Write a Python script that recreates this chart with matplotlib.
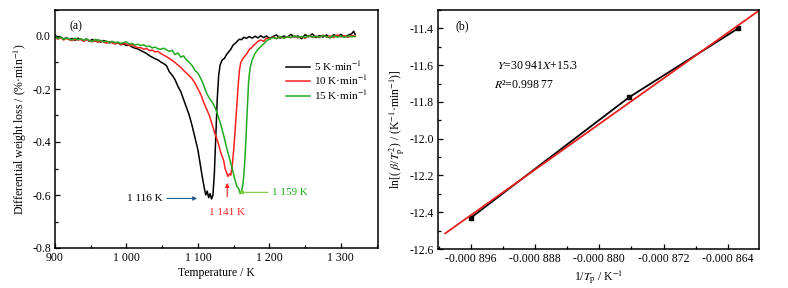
import matplotlib
matplotlib.use("Agg")
import matplotlib.pyplot as plt
from matplotlib.ticker import MultipleLocator, FuncFormatter

plt.rcParams['font.family'] = ['Liberation Serif', 'DejaVu Serif']
plt.rcParams['mathtext.fontset'] = 'stix'
plt.rcParams['font.size'] = 8

# ---------------- data: panel (a) ----------------
T_5 = [900, 904, 908, 912, 916, 920, 924, 928, 932, 936,
       940, 944, 948, 952, 956, 960, 964, 968, 972, 976,
       980, 984, 988, 992, 996, 1000, 1004, 1008, 1012, 1016,
       1020, 1024, 1028, 1032, 1036, 1040, 1044, 1048, 1052, 1056,
       1060, 1064, 1068, 1072, 1076, 1080, 1084, 1088, 1092, 1096,
       1100, 1103, 1106, 1109, 1111, 1113, 1115, 1117, 1119, 1121,
       1123, 1125, 1127, 1129, 1131, 1134, 1137, 1140, 1143, 1146,
       1149, 1152, 1155, 1158, 1161, 1164, 1168, 1172, 1176, 1180,
       1184, 1188, 1192, 1196, 1200, 1205, 1210, 1215, 1220, 1225,
       1230, 1235, 1240, 1245, 1250, 1255, 1260, 1265, 1270, 1275,
       1280, 1285, 1290, 1295, 1300, 1305, 1310, 1315, 1318, 1320]
dtg_5 = [0.004, -0.008, -0.004, -0.012, -0.006, -0.014, -0.009, -0.016, -0.008, -0.013,
         -0.018, -0.011, -0.020, -0.013, -0.019, -0.015, -0.023, -0.017, -0.021, -0.026,
         -0.022, -0.029, -0.025, -0.033, -0.030, -0.036, -0.034, -0.042, -0.046, -0.049,
         -0.055, -0.060, -0.066, -0.074, -0.080, -0.086, -0.090, -0.098, -0.104, -0.112,
         -0.135, -0.148, -0.165, -0.190, -0.210, -0.240, -0.270, -0.300, -0.340, -0.385,
         -0.430, -0.480, -0.530, -0.575, -0.600, -0.585, -0.610, -0.595, -0.615, -0.600,
         -0.520, -0.380, -0.240, -0.150, -0.110, -0.090, -0.085, -0.070, -0.060, -0.050,
         -0.035, -0.028, -0.020, -0.012, -0.014, -0.005, -0.009, -0.002, -0.008, -0.001,
         -0.007, 0.001, -0.006, 0.000, -0.009, -0.002, 0.004, -0.008, 0.000, -0.005,
         0.006, -0.004, 0.000, -0.010, 0.005, -0.003, 0.008, -0.006, 0.002, -0.004,
         0.004, -0.007, 0.005, -0.002, 0.006, -0.004, 0.003, 0.008, 0.018, 0.005]

T_10 = [900, 904, 908, 912, 916, 920, 924, 928, 932, 936,
        940, 944, 948, 952, 956, 960, 964, 968, 972, 976,
        980, 984, 988, 992, 996, 1000, 1004, 1008, 1012, 1016,
        1020, 1024, 1028, 1032, 1036, 1040, 1044, 1048, 1052, 1056,
        1060, 1064, 1068, 1072, 1076, 1080, 1084, 1088, 1092, 1096,
        1100, 1104, 1108, 1112, 1116, 1120, 1124, 1128, 1132, 1136,
        1138, 1140, 1142, 1144, 1146, 1148, 1150, 1152, 1154, 1156,
        1158, 1160, 1163, 1166, 1169, 1172, 1175, 1178, 1181, 1184,
        1188, 1192, 1196, 1200, 1205, 1210, 1215, 1220, 1225, 1230,
        1235, 1240, 1245, 1250, 1255, 1260, 1265, 1270, 1275, 1280,
        1285, 1290, 1295, 1300, 1305, 1310, 1315, 1320]
dtg_10 = [-0.005, -0.012, -0.006, -0.015, -0.009, -0.013, -0.018, -0.010, -0.016, -0.012,
          -0.020, -0.014, -0.018, -0.022, -0.016, -0.024, -0.019, -0.023, -0.027, -0.021,
          -0.026, -0.030, -0.024, -0.032, -0.028, -0.030, -0.036, -0.033, -0.040, -0.044,
          -0.044, -0.050, -0.047, -0.055, -0.053, -0.060, -0.058, -0.066, -0.072, -0.078,
          -0.085, -0.092, -0.100, -0.110, -0.118, -0.130, -0.140, -0.150, -0.162, -0.178,
          -0.200, -0.220, -0.250, -0.275, -0.300, -0.335, -0.370, -0.400, -0.440, -0.470,
          -0.500, -0.515, -0.530, -0.520, -0.525, -0.490, -0.430, -0.360, -0.280, -0.200,
          -0.130, -0.100, -0.085, -0.075, -0.065, -0.050, -0.045, -0.035, -0.028, -0.020,
          -0.015, -0.020, -0.008, -0.012, -0.004, -0.010, -0.002, -0.008, -0.003, -0.006,
          0.000, -0.007, -0.002, -0.009, 0.002, -0.005, -0.001, -0.006, 0.003, -0.004,
          0.000, -0.006, 0.004, -0.003, 0.001, -0.005, 0.002, -0.001]

T_15 = [900, 904, 908, 912, 916, 920, 924, 928, 932, 936,
        940, 944, 948, 952, 956, 960, 964, 968, 972, 976,
        980, 984, 988, 992, 996, 1000, 1004, 1008, 1012, 1016,
        1020, 1024, 1028, 1032, 1036, 1040, 1044, 1048, 1052, 1056,
        1060, 1064, 1068, 1072, 1076, 1080, 1084, 1088, 1092, 1096,
        1100, 1104, 1108, 1112, 1116, 1120, 1124, 1128, 1132, 1136,
        1140, 1144, 1148, 1152, 1155, 1157, 1159, 1161, 1163, 1165,
        1167, 1169, 1171, 1173, 1176, 1180, 1184, 1188, 1192, 1196,
        1200, 1205, 1210, 1215, 1220, 1225, 1230, 1235, 1240, 1245,
        1250, 1255, 1260, 1265, 1270, 1275, 1280, 1285, 1290, 1295,
        1300, 1305, 1310, 1315, 1320]
dtg_15 = [0.000, -0.010, -0.004, -0.013, -0.007, -0.011, -0.015, -0.008, -0.014, -0.010,
          -0.016, -0.012, -0.017, -0.020, -0.013, -0.018, -0.016, -0.022, -0.019, -0.024,
          -0.020, -0.025, -0.023, -0.028, -0.024, -0.022, -0.030, -0.028, -0.034, -0.031,
          -0.036, -0.033, -0.040, -0.038, -0.045, -0.042, -0.048, -0.050, -0.046, -0.052,
          -0.058, -0.054, -0.070, -0.064, -0.080, -0.075, -0.090, -0.100, -0.112, -0.130,
          -0.140, -0.160, -0.185, -0.215, -0.235, -0.250, -0.270, -0.300, -0.335, -0.375,
          -0.420, -0.460, -0.500, -0.545, -0.570, -0.575, -0.595, -0.585, -0.560, -0.500,
          -0.400, -0.280, -0.170, -0.120, -0.090, -0.065, -0.050, -0.040, -0.030, -0.018,
          -0.012, -0.006, -0.010, -0.002, -0.008, -0.003, -0.006, 0.000, -0.005, -0.002,
          -0.006, 0.001, -0.004, -0.001, -0.005, 0.002, -0.003, -0.006, 0.001, -0.004,
          -0.001, -0.005, 0.000, -0.003, -0.002]

labels_a = ['5 K·min$^{-1}$', '10 K·min$^{-1}$', '15 K·min$^{-1}$']
colors_a = ['black', '#ff2020', '#22aa22']
peaks_T = [1116, 1141, 1159]
peaks_y = [-0.613, -0.554, -0.59]
peak_labels = ['1 116 K', '1 141 K', '1 159 K']

# ---------------- data: panel (b) ----------------
inv_Tp = [-0.000896, -0.0008763, -0.0008627]
ln_beta_T2 = [-12.43, -11.775, -11.40]
fit_x = [-0.0008992, -0.00086]
fit_y = [-12.515, -11.30]

W, H = 788, 288
fig = plt.figure(figsize=(W / 100, H / 100), dpi=100)

def ax_rect(l, t, r, b):
    return [l / W, 1 - b / H, (r - l) / W, (b - t) / H]

def space_thousands(v, pos):
    return f"{int(round(v)):,}".replace(",", " ")

# ---------- panel (a) ----------
ax1 = fig.add_axes(ax_rect(55, 9.5, 378, 248))
ax1.plot(T_5, dtg_5, color=colors_a[0], lw=1.1, label=labels_a[0])
ax1.plot(T_10, dtg_10, color=colors_a[1], lw=1.1, label=labels_a[1])
ax1.plot(T_15, dtg_15, color=colors_a[2], lw=1.1, label=labels_a[2])
ax1.set_xlim(900, 1352)
ax1.set_ylim(-0.8, 0.1)
ax1.xaxis.set_major_locator(MultipleLocator(100))
ax1.xaxis.set_minor_locator(MultipleLocator(50))
ax1.yaxis.set_major_locator(MultipleLocator(0.2))
ax1.yaxis.set_minor_locator(MultipleLocator(0.1))
ax1.xaxis.set_major_formatter(FuncFormatter(space_thousands))
ax1.yaxis.set_major_formatter(FuncFormatter(lambda v, p: f"{v:.1f}"))
ax1.set_xlabel('Temperature / K', fontsize=8.5, labelpad=2)
ax1.set_ylabel('Differential weight loss / (%·min$^{-1}$)', fontsize=8.5, labelpad=2)
ax1.text(0.045, 0.955, '(a)', transform=ax1.transAxes, fontsize=8.5, va='top')
ax1.legend(loc='upper right', bbox_to_anchor=(1.0, 0.835), frameon=False, fontsize=8,
           handlelength=2.2, handletextpad=0.4, labelspacing=0.08)

# peak annotations
ax1.annotate(peak_labels[0], xy=(1099, peaks_y[0]), xytext=(1051, peaks_y[0]),
             ha='right', va='center', fontsize=8, color='black',
             arrowprops=dict(arrowstyle='-|>', color='#2f5f8f', lw=0.8,
                             mutation_scale=6, shrinkA=1, shrinkB=0))
ax1.annotate(peak_labels[1], xy=(peaks_T[1], peaks_y[1]), xytext=(peaks_T[1], -0.665),
             ha='center', va='center', fontsize=8, color=colors_a[1],
             arrowprops=dict(arrowstyle='-|>', color=colors_a[1], lw=0.8,
                             mutation_scale=6, shrinkA=6, shrinkB=0))
ax1.annotate(peak_labels[2], xy=(1157, peaks_y[2]), xytext=(1204, peaks_y[2]),
             ha='left', va='center', fontsize=8, color=colors_a[2],
             arrowprops=dict(arrowstyle='-|>', color='#7ccc3c', lw=0.8,
                             mutation_scale=6, shrinkA=1, shrinkB=0))

# ---------- panel (b) ----------
ax2 = fig.add_axes(ax_rect(438, 10, 759, 249))
ax2.plot(inv_Tp, ln_beta_T2, color='black', lw=1.3, marker='s', ms=3.5)
ax2.plot(fit_x, fit_y, color='#e8201e', lw=1.3)
ax2.set_xlim(-0.0009001, -0.0008601)
ax2.set_ylim(-12.6, -11.3)
ax2.set_xticks([-0.000896, -0.000888, -0.000880, -0.000872, -0.000864])
ax2.xaxis.set_minor_locator(MultipleLocator(0.000004))
ax2.yaxis.set_major_locator(MultipleLocator(0.2))
ax2.yaxis.set_minor_locator(MultipleLocator(0.1))

def fmt_small(v, pos):
    s = f"{v:.6f}"
    sign = "-" if s.startswith("-") else ""
    s = s.lstrip("-")
    ip, fp = s.split(".")
    return f"{sign}{ip}.{fp[:3]} {fp[3:]}"

ax2.xaxis.set_major_formatter(FuncFormatter(fmt_small))
ax2.yaxis.set_major_formatter(FuncFormatter(lambda v, p: f"{v:.1f}"))
ax2.set_xlabel(r'1/$T_\mathrm{p}$ / K$^{-1}$', fontsize=8.5, labelpad=2)
ax2.set_ylabel(r'ln[( $\beta$/$T_\mathrm{p}^{\,2}$) / (K$^{-1}$·min$^{-1}$)]', fontsize=8.5, labelpad=2)
ax2.text(0.053, 0.955, '(b)', transform=ax2.transAxes, fontsize=8.5, va='top')
ax2.text(0.185, 0.765, r'$Y$=30 941$X$+15.3', transform=ax2.transAxes, fontsize=8.5, va='center')
ax2.text(0.175, 0.685, r'$R$²=0.998 77', transform=ax2.transAxes, fontsize=8.5, va='center')

for ax in (ax1, ax2):
    for sp in ax.spines.values():
        sp.set_linewidth(1.1)
    ax.tick_params(which='both', direction='in', labelsize=8.5, width=0.9)
    ax.tick_params(which='major', length=3.5, pad=3)
    ax.tick_params(which='minor', length=2)

fig.savefig('out.png', dpi=100)
